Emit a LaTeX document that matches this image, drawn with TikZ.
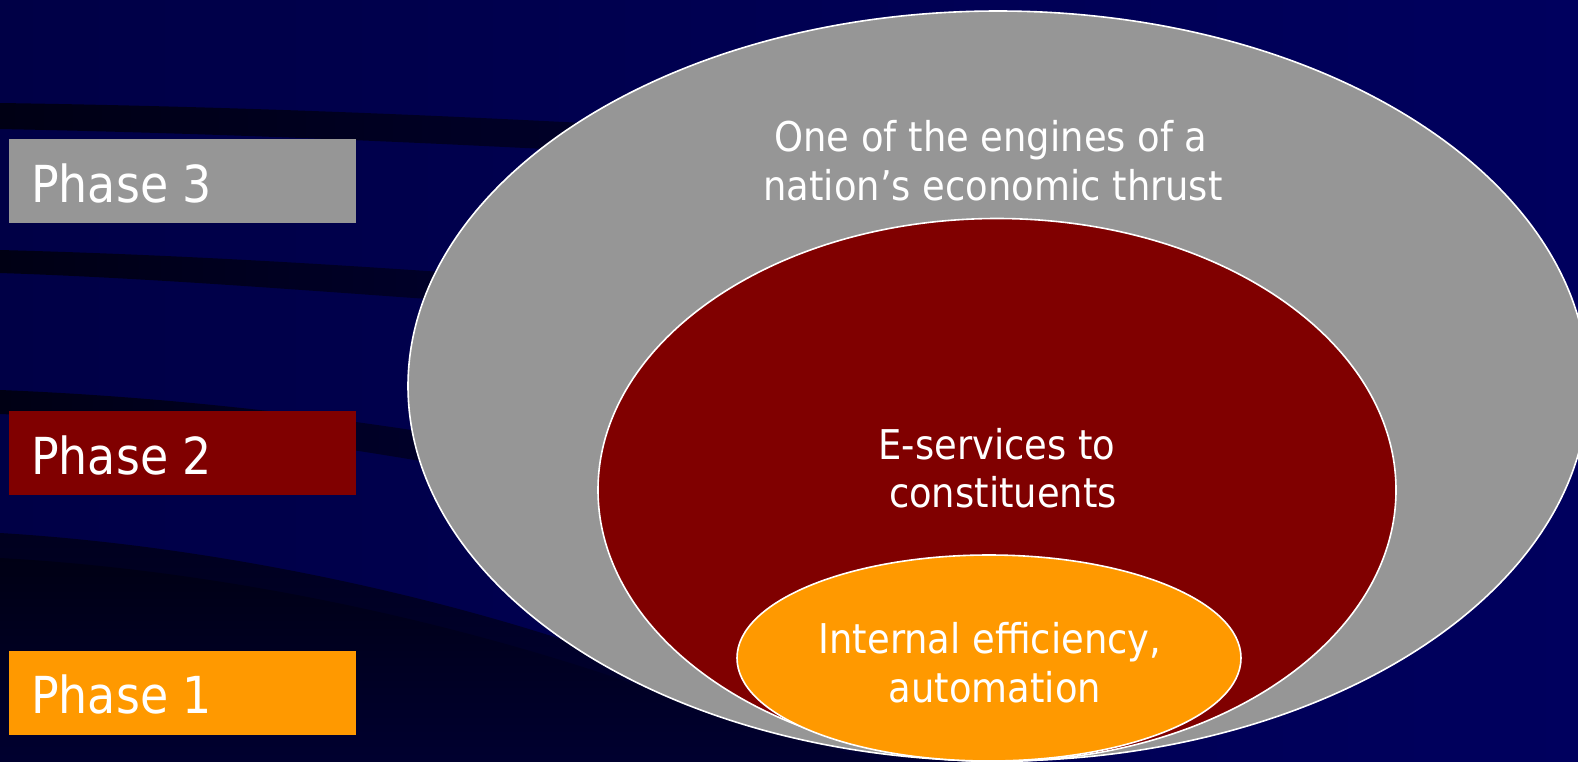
\documentclass[tikz,border=0pt]{standalone}
\usepackage{fontspec}
\setmainfont[FakeStretch=0.9]{DejaVu Sans}
\usetikzlibrary{shapes.geometric}
\definecolor{navyL}{RGB}{0,0,70}
\definecolor{navyR}{RGB}{0,0,94}
\definecolor{bandD}{RGB}{0,0,20}
\definecolor{bandF}{RGB}{0,0,42}
\definecolor{ph3}{RGB}{150,150,150}
\definecolor{ph2}{RGB}{128,0,0}
\definecolor{ph1}{RGB}{255,153,0}
\begin{document}
\begin{tikzpicture}[x=1pt,y=-1pt,
  phasebox/.style={rectangle, inner sep=0pt, minimum width=347pt, minimum height=84pt, anchor=north west},
  phasetext/.style={text=white, font=\fontsize{51}{60}\selectfont, anchor=base west, inner sep=0pt},
  ring/.style={ellipse, draw=white, line width=1.6pt, inner sep=0pt},
  ringtext/.style={text=white, font=\fontsize{41}{48}\selectfont, anchor=base, inner sep=0pt}]
\useasboundingbox (0,0) rectangle (1578,761);
\clip (0,0) rectangle (1578,761);
% background
\shade[left color=navyL, right color=navyR] (0,0) rectangle (1578,761);
% swoosh bands
\shade[left color=bandD, right color=bandF] (0,103) .. controls (200,106) and (400,113) .. (640,126) -- (640,154) .. controls (400,141) and (200,133) .. (0,129) -- cycle;
\shade[left color=bandD, right color=bandF] (0,250) .. controls (150,254) and (300,262) .. (470,274) -- (470,302) .. controls (300,290) and (150,278) .. (0,273) -- cycle;
\shade[left color=bandD, right color=bandF] (0,390) .. controls (150,396) and (300,412) .. (450,436) -- (450,466) .. controls (300,440) and (150,420) .. (0,414) -- cycle;
\shade[top color=bandD!80!navyL, bottom color=navyL!70!bandD] (0,533) .. controls (200,545) and (420,590) .. (600,652) .. controls (760,708) and (900,750) .. (1050,780) -- (0,780) -- cycle;
\shade[top color=bandD, bottom color=navyL!60!bandD] (0,558) .. controls (220,570) and (450,620) .. (640,686) .. controls (760,728) and (850,755) .. (950,780) -- (0,780) -- cycle;
% phase boxes
\node[phasebox, fill=ph3] (b3) at (9,139) {};
\node[phasebox, fill=ph2] (b2) at (9,411) {};
\node[phasebox, fill=ph1] (b1) at (9,651) {};
\node[phasetext] (t3) at (31,202) {Phase 3};
\node[phasetext] (t2) at (31,474) {Phase 2};
\node[phasetext] (t1) at (31,713) {Phase 1};
% nested ellipses
\node[ring, fill=ph3, minimum width=1180pt, minimum height=750pt] (e3) at (998,386) {};
\node[ring, fill=ph2, minimum width=798pt, minimum height=543pt] (e2) at (997,490) {};
\node[ring, fill=ph1, minimum width=504pt, minimum height=206pt] (e1) at (989,658) {};
% ellipse texts
\node[ringtext] (l3a) at (991,151) {One of the engines of a};
\node[ringtext] (l3b) at (993,200) {nation’s economic thrust};
\node[ringtext] (l2a) at (997,459) {E-services to};
\node[ringtext] (l2b) at (1003,507) {constituents};
\node[ringtext] (l1a) at (990,653) {Internal efficiency,};
\node[ringtext] (l1b) at (995,702) {automation};
\end{tikzpicture}
\end{document}
